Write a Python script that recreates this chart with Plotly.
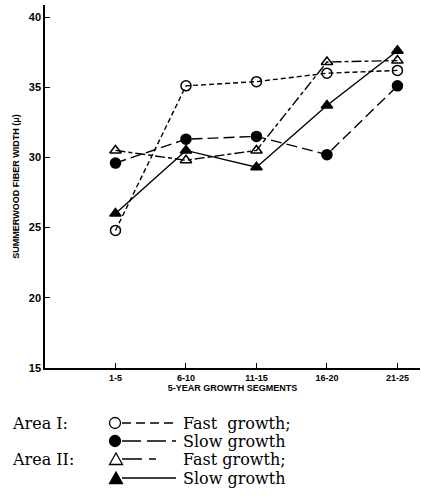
import plotly.graph_objects as go

segments = ["1-5", "6-10", "11-15", "16-20", "21-25"]
fast_area1 = [24.8, 35.1, 35.4, 36.0, 36.2]
slow_area1 = [29.6, 31.3, 31.5, 30.2, 35.1]
fast_area2 = [30.5, 29.8, 30.5, 36.8, 36.9]
slow_area2 = [26.0, 30.5, 29.3, 33.7, 37.6]
y_ticks = [15, 20, 25, 30, 35, 40]

W, H = 421, 501
ML, MR, MT, MB = 45, 1, 5, 133

fig = go.Figure()

series = [
    (fast_area1, "circle-open", "5px,3px", "Area I fast"),
    (slow_area1, "circle", "11px,5px", "Area I slow"),
    (fast_area2, "triangle-up-open", "10px,3px,4px,3px", "Area II fast"),
    (slow_area2, "triangle-up", "solid", "Area II slow"),
]
for vals, sym, dash, name in series:
    fig.add_trace(go.Scatter(
        x=segments, y=vals, mode="lines+markers", name=name,
        line=dict(color="black", width=1.4, dash=dash),
        marker=dict(symbol=sym, size=10, color="black",
                    line=dict(color="black", width=1.5)),
        cliponaxis=False, showlegend=False))

fig.update_xaxes(
    type="category", range=[-1, 4.32],
    showline=True, linecolor="black", linewidth=1.5,
    ticks="inside", ticklen=5, tickcolor="black", tickwidth=1.2,
    showgrid=False, zeroline=False,
    tickfont=dict(family="Liberation Sans", size=9, color="black"),
    tickvals=segments, ticktext=["<b>%s</b>" % s for s in segments],
    title=dict(text="<b>5-YEAR GROWTH SEGMENTS</b>",
               font=dict(family="Liberation Sans", size=9, color="black"),
               standoff=2),
)
fig.update_yaxes(
    range=[15, 40.86],
    showline=True, linecolor="black", linewidth=1.5,
    ticks="inside", ticklen=5, tickcolor="black", tickwidth=1.2,
    showgrid=False, zeroline=False,
    tickvals=y_ticks, ticktext=["<b>%d</b>" % v for v in y_ticks],
    tickfont=dict(family="Liberation Sans", size=11, color="black"),
    title=dict(text="<b>SUMMERWOOD FIBER WIDTH (μ)</b>",
               font=dict(family="Liberation Sans", size=9, color="black"),
               standoff=8),
)

def px_x(p):
    return (p - ML) / (W - ML - MR)

def px_y(p):
    return (H - MB - p) / (H - MT - MB)

legend_rows = [
    ("Area I:", "circle-open", "9px,5px", "Fast  growth;", 423),
    ("", "circle", "19px,6px", "Slow growth", 441),
    ("Area II:", "triangle-up-open", "20px,7px,7px,30px", "Fast growth;", 459),
    ("", "triangle-up", "solid", "Slow growth", 478),
]
serif = dict(family="DejaVu Serif", size=16, color="black")
for label, sym, dash, text, py in legend_rows:
    yy = px_y(py)
    if label:
        fig.add_annotation(x=px_x(11), y=yy, xref="paper", yref="paper",
                           text=label, showarrow=False, xanchor="left",
                           yanchor="middle", font=serif, borderpad=0)
    fig.add_annotation(x=px_x(182), y=yy, xref="paper", yref="paper",
                       text=text, showarrow=False, xanchor="left",
                       yanchor="middle", font=serif, borderpad=0)
    fig.add_shape(type="line", xref="paper", yref="paper",
                  x0=px_x(122), x1=px_x(176), y0=yy, y1=yy,
                  line=dict(color="black", width=1.6, dash=dash))
    r = 5.5
    if sym.startswith("circle"):
        fig.add_shape(type="circle", xref="paper", yref="paper",
                      xsizemode="pixel", ysizemode="pixel",
                      xanchor=px_x(115), yanchor=yy,
                      x0=-r, x1=r, y0=-r, y1=r,
                      line=dict(color="black", width=1.3),
                      fillcolor="black" if sym == "circle" else "white")
    else:
        fig.add_shape(type="path", xref="paper", yref="paper",
                      xsizemode="pixel", ysizemode="pixel",
                      xanchor=px_x(116), yanchor=yy,
                      path="M -6.5 -5.5 L 6.5 -5.5 L 0 6 Z",
                      line=dict(color="black", width=1.3),
                      fillcolor="black" if sym == "triangle-up" else "white")

fig.update_layout(
    width=W, height=H,
    margin=dict(l=ML, r=MR, t=MT, b=MB),
    paper_bgcolor="white", plot_bgcolor="white",
    showlegend=False,
)

fig.write_html("out.html")
